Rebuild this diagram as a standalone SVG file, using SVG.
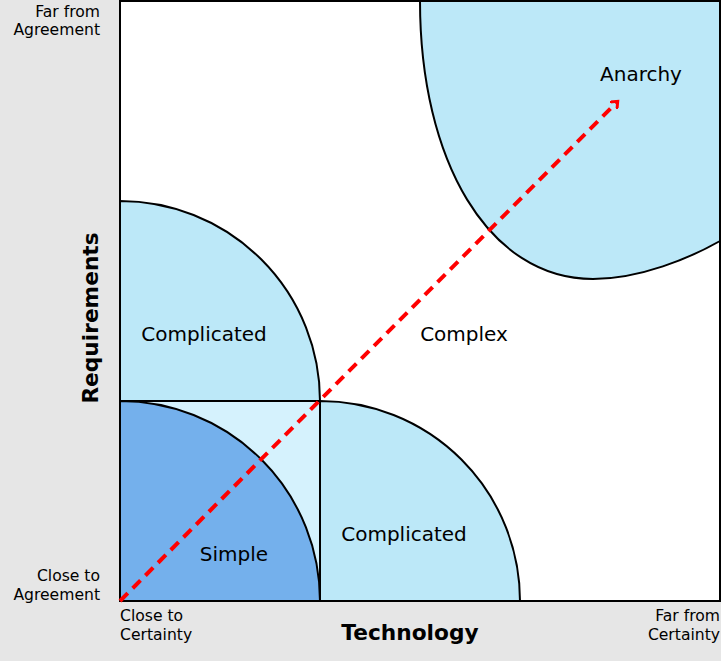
<svg xmlns="http://www.w3.org/2000/svg" width="721" height="661" viewBox="0 0 721 661">
<style>
.lbl{font-family:"DejaVu Sans",sans-serif;font-size:20px;fill:#000;text-anchor:middle}
.sm{font-family:"DejaVu Sans",sans-serif;font-size:15.6px;fill:#000}
.ax{font-family:"DejaVu Sans",sans-serif;font-size:21.7px;font-weight:bold;fill:#000;text-anchor:middle}
.edge{stroke:#000;stroke-width:2}
</style>
<defs>
<marker id="ah" markerWidth="10" markerHeight="10" refX="5" refY="5" orient="auto" markerUnits="userSpaceOnUse" viewBox="0 0 10 10">
<path d="M0,0 L6,5 L0,10" fill="none" stroke="#ff0000" stroke-width="3"/>
</marker>
</defs>
<rect width="721" height="661" fill="#e6e6e6"/>
<g id="frame"><rect x="120" y="1" width="600" height="600" fill="#ffffff"/></g>
<g id="anarchy">
<path d="M420,1 C420,160 488,279 593,279 C640,279 690,258 720,241 L720,1 Z" fill="#bce8f8" class="edge"/>
<text class="lbl" x="641" y="81">Anarchy</text>
</g>
<g id="complex"><text class="lbl" x="464" y="341">Complex</text></g>
<g id="complicated-upper">
<path d="M120,401 L120,201 A200,200 0 0 1 320,401 Z" fill="#bce8f8" class="edge"/>
<text class="lbl" x="204" y="341">Complicated</text>
</g>
<g id="complicated-right">
<path d="M320,601 L320,401 A200,200 0 0 1 520,601 Z" fill="#bce8f8" class="edge"/>
<text class="lbl" x="404" y="541">Complicated</text>
</g>
<g id="simple-box">
<rect x="120" y="401" width="200" height="200" fill="#d5f2fd" class="edge"/>
</g>
<g id="simple">
<path d="M120,601 L120,401 A200,200 0 0 1 320,601 Z" fill="#74b0ec" class="edge"/>
<text class="lbl" x="234" y="561">Simple</text>
</g>
<rect x="120" y="1" width="600" height="600" fill="none" class="edge"/>
<g id="connectors">
<path d="M120,601 L617,102" fill="none" stroke="#ff0000" stroke-width="4" stroke-dasharray="11,7" marker-end="url(#ah)"/>
</g>
<g id="axis-labels">
<text class="sm" x="100" y="17" text-anchor="end">Far from</text>
<text class="sm" x="100" y="35" text-anchor="end">Agreement</text>
<text class="sm" x="100" y="581" text-anchor="end">Close to</text>
<text class="sm" x="100" y="600" text-anchor="end">Agreement</text>
<text class="sm" x="120" y="621">Close to</text>
<text class="sm" x="120" y="640">Certainty</text>
<text class="sm" x="720" y="621" text-anchor="end">Far from</text>
<text class="sm" x="720" y="640" text-anchor="end">Certainty</text>
<text class="ax" x="410" y="640">Technology</text>
<text class="ax" transform="translate(98,318) rotate(-90)">Requirements</text>
</g>
</svg>
